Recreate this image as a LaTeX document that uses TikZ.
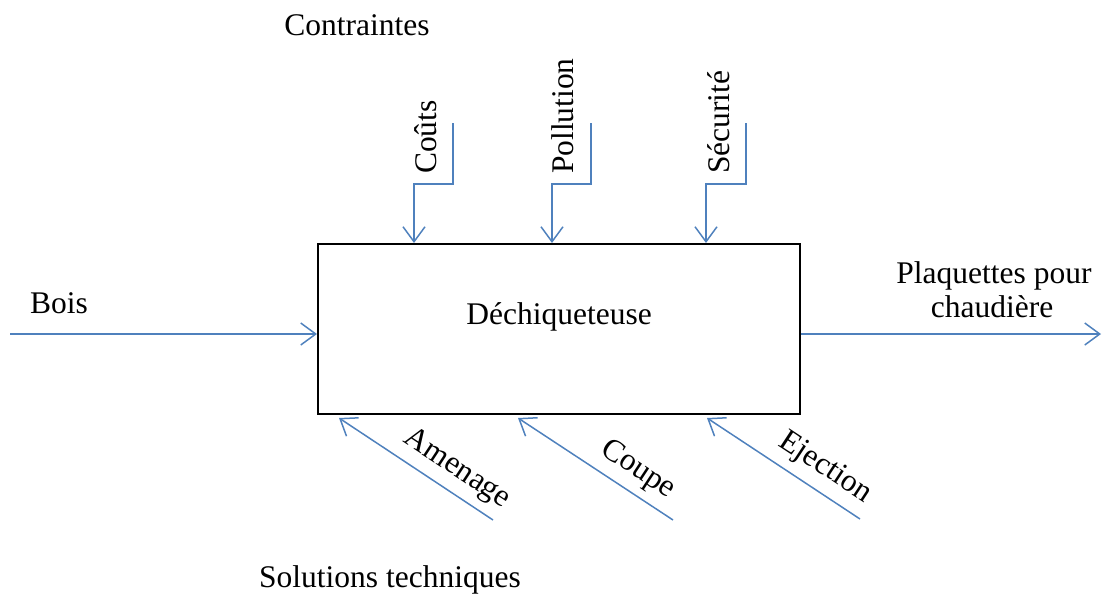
\documentclass[tikz,border=0pt]{standalone}
\usepackage{fontspec}
\setmainfont{Liberation Serif}
\usetikzlibrary{arrows.meta}
\definecolor{flowblue}{HTML}{4F81BD}
\tikzset{
  flow/.style={draw=flowblue, line width=1.5pt, -{Straight Barb[length=15pt,width=22pt,line width=1.5pt]}},
  lbl/.style={font=\fontsize{31.5}{36}\selectfont, inner sep=0pt},
  mainbox/.style={draw=black, line width=2pt, minimum width=482pt, minimum height=170pt, inner sep=0pt}
}
\begin{document}
\begin{tikzpicture}[x=1pt,y=-1pt]
\useasboundingbox (0,0) rectangle (1102,595);
% main box
\node[mainbox] (box) at (559,329) {};
\node[lbl, anchor=base] (dech) at (559,324) {Déchiqueteuse};
% titles
\node[lbl, anchor=base] (contr) at (357,35) {Contraintes};
\node[lbl, anchor=base] (sol) at (390,587) {Solutions techniques};
% input / output
\coordinate (boisIn) at (10,334);
\draw[flow] (boisIn) -- (box.west |- boisIn);
\node[lbl, anchor=base west] (bois) at (30,313) {Bois};
\coordinate (outEnd) at (1101,334);
\draw[flow] (box.east |- outEnd) -- (outEnd);
\node[lbl, anchor=base, align=center] (plaq1) at (994,283) {Plaquettes pour};
\node[lbl, anchor=base] (plaq2) at (992,317) {chaudière};
% constraints (top)
\coordinate (c1) at (453,123); \coordinate (c1b) at (414,184);
\coordinate (c2) at (591,123); \coordinate (c2b) at (552,184);
\coordinate (c3) at (746,123); \coordinate (c3b) at (706,184);
\draw[flow] (c1) |- (c1b) -- (c1b |- box.north);
\draw[flow] (c2) |- (c2b) -- (c2b |- box.north);
\draw[flow] (c3) |- (c3b) -- (c3b |- box.north);
\node[lbl, rotate=90, anchor=base west] (couts) at (436,174) {Coûts};
\node[lbl, rotate=90, anchor=base west] (poll) at (573,174) {Pollution};
\node[lbl, rotate=90, anchor=base west] (secu) at (729,174) {Sécurité};
% technical solutions (bottom)
\coordinate (s1) at (493,520); \coordinate (s1t) at (339,418);
\coordinate (s2) at (673,520); \coordinate (s2t) at (518,418);
\coordinate (s3) at (860,519); \coordinate (s3t) at (707,418);
\draw[flow] (s1) -- (s1t);
\draw[flow] (s2) -- (s2t);
\draw[flow] (s3) -- (s3t);
\node[lbl, rotate=-33.4] (amen) at (457,469) {Amenage};
\node[lbl, rotate=-33.4] (coupe) at (638,470) {Coupe};
\node[lbl, rotate=-33.4] (eject) at (825,468) {Ejection};
\end{tikzpicture}
\end{document}
